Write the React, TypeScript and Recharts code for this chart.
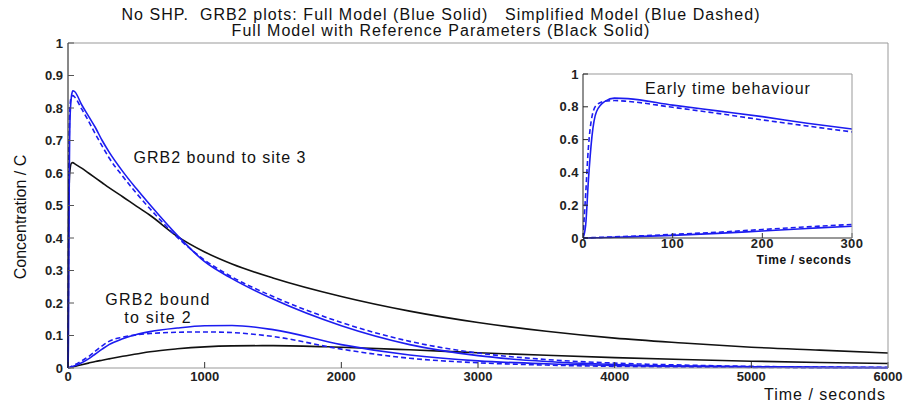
import { LineChart, Line, XAxis, YAxis } from "recharts";

const FONT = "'Liberation Sans', Arial, sans-serif";
const BLUE = "#1c1cf0";
const BLACK = "#111111";

// sample times (seconds)
const T = [0, 3, 6, 10, 15, 25, 35, 50, 100, 150, 200, 250, 300, 400, 500, 600, 800, 1000, 1200, 1500, 2000, 2500, 3000, 3500, 4000, 4500, 5000, 5500, 6000];

// GRB2 bound to site 3
const fullSite3 = [0, 0.08, 0.35, 0.62, 0.77, 0.835, 0.853, 0.85, 0.81, 0.775, 0.74, 0.7, 0.665, 0.605, 0.552, 0.502, 0.408, 0.327, 0.275, 0.212, 0.13, 0.072, 0.038, 0.02, 0.011, 0.006, 0.004, 0.002, 0.001];
const simpleSite3 = [0, 0.27, 0.55, 0.74, 0.81, 0.835, 0.838, 0.833, 0.797, 0.76, 0.72, 0.683, 0.647, 0.59, 0.538, 0.49, 0.402, 0.332, 0.28, 0.22, 0.14, 0.082, 0.046, 0.026, 0.015, 0.009, 0.005, 0.003, 0.002];
const refSite3 = [0, 0.3, 0.5, 0.58, 0.61, 0.63, 0.632, 0.628, 0.615, 0.6, 0.585, 0.57, 0.555, 0.527, 0.498, 0.47, 0.405, 0.357, 0.32, 0.277, 0.22, 0.175, 0.14, 0.113, 0.092, 0.077, 0.064, 0.055, 0.046];

// GRB2 bound to site 2
const fullSite2 = [0, 0, 0.0003, 0.0008, 0.0015, 0.003, 0.005, 0.007, 0.016, 0.028, 0.043, 0.058, 0.072, 0.09, 0.103, 0.112, 0.123, 0.13, 0.131, 0.118, 0.072, 0.04, 0.022, 0.013, 0.008, 0.005, 0.003, 0.002, 0.001];
const simpleSite2 = [0, 0.0005, 0.001, 0.002, 0.003, 0.005, 0.007, 0.01, 0.022, 0.035, 0.052, 0.068, 0.082, 0.095, 0.102, 0.106, 0.11, 0.111, 0.109, 0.097, 0.058, 0.03, 0.016, 0.009, 0.005, 0.003, 0.002, 0.001, 0.001];
const refSite2 = [0, 0.0003, 0.0006, 0.001, 0.0015, 0.0025, 0.0035, 0.005, 0.01, 0.015, 0.02, 0.024, 0.028, 0.036, 0.043, 0.05, 0.059, 0.065, 0.068, 0.069, 0.064, 0.056, 0.047, 0.039, 0.032, 0.026, 0.021, 0.017, 0.014];

const X_TICKS = [0, 1000, 2000, 3000, 4000, 5000, 6000];
const Y_TICKS = [0, 0.1, 0.2, 0.3, 0.4, 0.5, 0.6, 0.7, 0.8, 0.9, 1];
const INSET_X_TICKS = [0, 100, 200, 300];
const INSET_Y_TICKS = [0, 0.2, 0.4, 0.6, 0.8, 1];

const toPoints = (values: number[]) => T.map((t, i) => ({ t, v: values[i] }));

const tickStyle = { fontFamily: FONT, fontSize: 13, fontWeight: 700, fill: "#222" };
const insetTick = { fontFamily: FONT, fontSize: 13, fontWeight: 700, fill: "#222", letterSpacing: 0.5 };

const lineProps = {
  dataKey: "v",
  type: "monotone" as const,
  dot: false,
  strokeWidth: 1.6,
  isAnimationActive: false,
  xAxisId: "b",
  yAxisId: "l",
};

const main = [
  { key: "ref3", data: refSite3, color: BLACK, dash: undefined },
  { key: "ref2", data: refSite2, color: BLACK, dash: undefined },
  { key: "full3", data: fullSite3, color: BLUE, dash: undefined },
  { key: "full2", data: fullSite2, color: BLUE, dash: undefined },
  { key: "simple3", data: simpleSite3, color: BLUE, dash: "5 3" },
  { key: "simple2", data: simpleSite2, color: BLUE, dash: "5 3" },
];

const inset = main.filter((s) => s.color === BLUE);

const Txt = ({ x, y, size, children, bold, spacing = 1, lh = 1.15 }: any) => (
  <div
    style={{
      position: "absolute",
      left: x,
      top: y,
      fontFamily: FONT,
      fontSize: size,
      fontWeight: bold ? 700 : 400,
      letterSpacing: spacing,
      whiteSpace: "pre",
      color: "#111",
      lineHeight: lh,
      transform: "translateX(-50%)",
      textAlign: "center",
    }}
  >
    {children}
  </div>
);

export default function App() {
  return (
    <div style={{ position: "absolute", left: 0, top: 0, width: 909, height: 404, background: "#fff" }}>
      <LineChart width={909} height={404} margin={{ top: 42, right: 20, bottom: 16, left: 0 }}>
        <XAxis xAxisId="b" dataKey="t" type="number" domain={[0, 6000]} ticks={X_TICKS} height={20}
          tickSize={-6} tickMargin={10} tick={tickStyle} stroke="#999" tickLine={{ stroke: "#333" }} />
        <XAxis xAxisId="top" orientation="top" dataKey="t" type="number" domain={[0, 6000]} ticks={X_TICKS}
          height={1} tickSize={-6} tick={false} stroke="#999" />
        <YAxis yAxisId="l" type="number" domain={[0, 1]} ticks={Y_TICKS} width={68}
          tickSize={-6} tickMargin={11} tick={tickStyle} stroke="#111" tickLine={{ stroke: "#555" }} />
        <YAxis yAxisId="r" orientation="right" type="number" domain={[0, 1]} ticks={Y_TICKS} width={1}
          tickSize={-6} tick={false} stroke="#999" />
        {main.map((s) => (
          <Line key={s.key} {...lineProps} data={toPoints(s.data)} stroke={s.color} strokeDasharray={s.dash} />
        ))}
      </LineChart>

      <div style={{ position: "absolute", left: 540, top: 60 }}>
        <LineChart width={340} height={210} margin={{ top: 13, right: 27, bottom: 12, left: 0 }}>
          <XAxis xAxisId="b" dataKey="t" type="number" domain={[0, 300]} allowDataOverflow ticks={INSET_X_TICKS}
            height={20} tickSize={-5} tickMargin={6} tick={insetTick} stroke="#333" />
          <XAxis xAxisId="top" orientation="top" dataKey="t" type="number" domain={[0, 300]} allowDataOverflow
            ticks={INSET_X_TICKS} height={1} tickSize={-5} tick={false} stroke="#999" />
          <YAxis yAxisId="l" type="number" domain={[0, 1]} ticks={INSET_Y_TICKS} width={43}
            tickSize={-5} tickMargin={9} tick={insetTick} stroke="#222" />
          <YAxis yAxisId="r" orientation="right" type="number" domain={[0, 1]} ticks={INSET_Y_TICKS} width={1}
            tickSize={-5} tick={false} stroke="#999" />
          {inset.map((s) => (
            <Line key={s.key} {...lineProps} data={toPoints(s.data)} stroke={s.color} strokeDasharray={s.dash} />
          ))}
        </LineChart>
      </div>

      <Txt x={441} y={7} size={16} spacing={1.05} lh="16px">
        {"No SHP.  GRB2 plots: Full Model (Blue Solid)   Simplified Model (Blue Dashed)\nFull Model with Reference Parameters (Black Solid)"}
      </Txt>
      <div
        style={{
          position: "absolute",
          left: 21,
          top: 217,
          transform: "translate(-50%, -50%) rotate(-90deg)",
          fontFamily: FONT,
          fontSize: 16,
          whiteSpace: "pre",
          color: "#111",
        }}
      >
        Concentration / C
      </div>
      <Txt x={825} y={386} size={16}>Time / seconds</Txt>
      <Txt x={220} y={149} size={16}>GRB2 bound to site 3</Txt>
      <Txt x={158} y={291} size={16} spacing={1.3} lh="18px">{"GRB2 bound\nto site 2"}</Txt>
      <Txt x={728} y={80} size={16}>Early time behaviour</Txt>
      <Txt x={804} y={254} size={12} bold spacing={0.6}>Time / seconds</Txt>
    </div>
  );
}
